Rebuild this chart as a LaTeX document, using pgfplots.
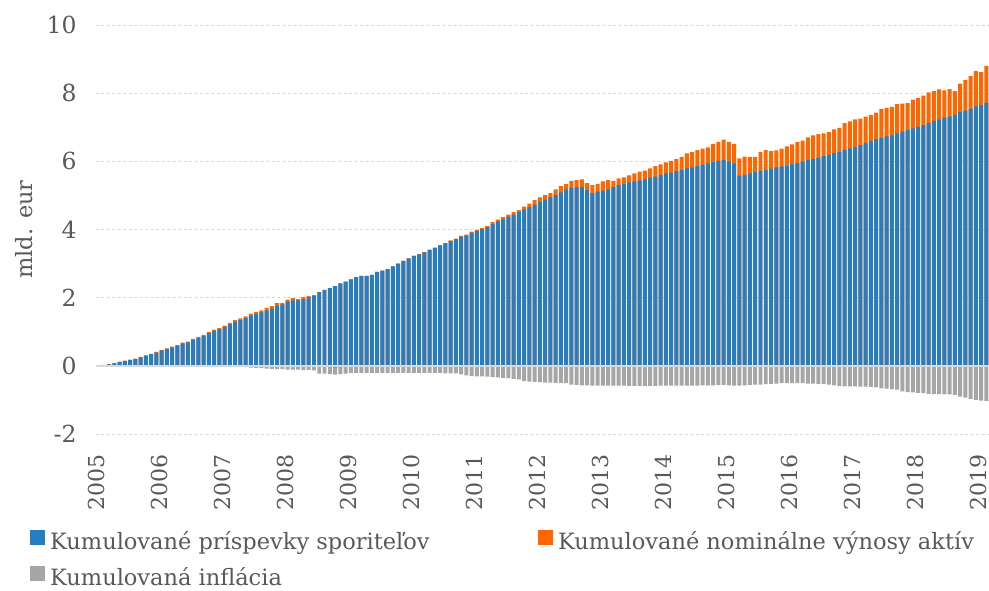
\documentclass[border=0pt]{standalone}
\usepackage{fontspec}
\setmainfont{DejaVu Serif}
\usepackage{pgfplots}
\usepackage{pgfplotstable}
\pgfplotsset{compat=1.18}
\definecolor{cblue}{RGB}{37,125,194}
\definecolor{corange}{RGB}{255,102,0}
\definecolor{cgray}{RGB}{166,166,166}
\definecolor{ctext}{RGB}{89,89,89}
\definecolor{cgrid}{RGB}{217,217,217}

\pgfplotstableread{
c b o g
0 0.005 0.005 0
1 0.02 0.01 -0.005
2 0.04 0.01 -0.005
3 0.07 0.01 -0.01
4 0.11 0.01 -0.01
5 0.14 0.01 -0.01
6 0.17 0.01 -0.01
7 0.20 0.01 -0.01
8 0.25 0.01 -0.01
9 0.30 0.01 -0.01
10 0.34 0.01 -0.01
11 0.39 0.02 -0.01
12 0.45 0.02 -0.01
13 0.49 0.02 -0.01
14 0.54 0.02 -0.01
15 0.59 0.02 -0.01
16 0.66 0.02 -0.01
17 0.69 0.02 -0.01
18 0.76 0.03 -0.01
19 0.82 0.03 -0.01
20 0.88 0.03 -0.01
21 0.97 0.03 -0.01
22 1.03 0.03 -0.01
23 1.08 0.03 -0.015
24 1.14 0.04 -0.02
25 1.22 0.04 -0.02
26 1.30 0.04 -0.02
27 1.34 0.05 -0.03
28 1.40 0.05 -0.04
29 1.47 0.06 -0.05
30 1.52 0.06 -0.06
31 1.57 0.06 -0.07
32 1.63 0.07 -0.08
33 1.68 0.07 -0.09
34 1.77 0.07 -0.10
35 1.80 0.05 -0.10
36 1.89 0.05 -0.11
37 1.92 0.07 -0.11
38 1.92 0.04 -0.11
39 1.96 0.06 -0.12
40 2.01 0.04 -0.12
41 2.07 0.00 -0.13
42 2.16 -0.04 -0.19
43 2.23 -0.04 -0.19
44 2.28 -0.04 -0.20
45 2.34 -0.05 -0.21
46 2.42 -0.04 -0.20
47 2.47 -0.03 -0.20
48 2.54 -0.01 -0.20
49 2.60 -0.01 -0.20
50 2.64 -0.01 -0.20
51 2.64 -0.01 -0.20
52 2.67 -0.01 -0.20
53 2.76 -0.01 -0.20
54 2.79 0 -0.21
55 2.84 0 -0.21
56 2.92 0 -0.21
57 3.00 0 -0.21
58 3.08 0 -0.21
59 3.15 0 -0.21
60 3.22 0.01 -0.21
61 3.27 0.01 -0.21
62 3.33 0.01 -0.21
63 3.40 0.01 -0.21
64 3.46 0.01 -0.21
65 3.53 0.01 -0.21
66 3.59 0.01 -0.22
67 3.66 0.02 -0.22
68 3.71 0.02 -0.22
69 3.79 0.02 -0.25
70 3.83 0.02 -0.28
71 3.91 0.03 -0.30
72 3.96 0.03 -0.31
73 4.01 0.04 -0.31
74 4.07 0.04 -0.32
75 4.16 0.06 -0.33
76 4.24 0.05 -0.34
77 4.30 0.06 -0.35
78 4.38 0.06 -0.36
79 4.44 0.07 -0.38
80 4.51 0.06 -0.40
81 4.59 0.08 -0.45
82 4.66 0.10 -0.46
83 4.73 0.13 -0.47
84 4.81 0.13 -0.48
85 4.88 0.13 -0.49
86 4.94 0.13 -0.49
87 5.01 0.17 -0.50
88 5.09 0.18 -0.50
89 5.17 0.17 -0.51
90 5.22 0.21 -0.55
91 5.24 0.21 -0.56
92 5.25 0.22 -0.57
93 5.16 0.20 -0.57
94 5.07 0.23 -0.58
95 5.11 0.23 -0.58
96 5.13 0.28 -0.58
97 5.18 0.27 -0.58
98 5.24 0.19 -0.58
99 5.31 0.19 -0.58
100 5.34 0.19 -0.58
101 5.38 0.21 -0.59
102 5.41 0.24 -0.59
103 5.44 0.26 -0.59
104 5.47 0.26 -0.59
105 5.52 0.27 -0.59
106 5.55 0.31 -0.59
107 5.60 0.31 -0.58
108 5.65 0.32 -0.58
109 5.67 0.34 -0.58
110 5.71 0.36 -0.58
111 5.75 0.38 -0.58
112 5.79 0.44 -0.58
113 5.82 0.45 -0.58
114 5.86 0.47 -0.58
115 5.90 0.47 -0.57
116 5.94 0.47 -0.57
117 5.98 0.53 -0.57
118 6.01 0.56 -0.56
119 6.04 0.60 -0.56
120 5.99 0.58 -0.57
121 5.94 0.57 -0.58
122 5.58 0.51 -0.58
123 5.60 0.54 -0.57
124 5.65 0.48 -0.56
125 5.68 0.45 -0.55
126 5.72 0.55 -0.55
127 5.75 0.58 -0.54
128 5.78 0.52 -0.53
129 5.82 0.50 -0.52
130 5.85 0.52 -0.51
131 5.87 0.57 -0.51
132 5.92 0.58 -0.51
133 5.95 0.61 -0.51
134 5.99 0.62 -0.51
135 6.04 0.66 -0.52
136 6.07 0.69 -0.52
137 6.11 0.69 -0.53
138 6.15 0.67 -0.54
139 6.19 0.67 -0.55
140 6.24 0.70 -0.57
141 6.28 0.70 -0.59
142 6.34 0.78 -0.60
143 6.38 0.79 -0.60
144 6.42 0.81 -0.60
145 6.48 0.77 -0.61
146 6.54 0.77 -0.61
147 6.60 0.76 -0.62
148 6.65 0.78 -0.63
149 6.69 0.85 -0.66
150 6.73 0.84 -0.67
151 6.76 0.84 -0.69
152 6.82 0.86 -0.70
153 6.87 0.82 -0.75
154 6.92 0.79 -0.77
155 6.97 0.84 -0.78
156 7.02 0.84 -0.79
157 7.07 0.86 -0.80
158 7.13 0.89 -0.82
159 7.18 0.88 -0.83
160 7.23 0.88 -0.83
161 7.28 0.80 -0.84
162 7.32 0.80 -0.84
163 7.36 0.70 -0.85
164 7.45 0.83 -0.90
165 7.49 0.90 -0.93
166 7.55 0.95 -0.97
167 7.61 1.04 -1.00
168 7.65 0.97 -1.02
169 7.72 1.08 -1.03
}\data

\begin{document}
\begin{tikzpicture}
\useasboundingbox (-96pt,-156pt) rectangle (893pt,434pt);
\begin{axis}[
  scale only axis, width=893pt, height=409pt,
  at={(0,0)}, anchor=south west,
  xmin=-0.5, xmax=169.5, ymin=-2, ymax=10,
  enlarge x limits=false,
  ybar, bar width=0.76,
  axis line style={draw=none},
  major tick length=0pt,
  ytick={-2,0,2,4,6,8,10},
  xtick={0,12,24,36,48,60,72,84,96,108,120,132,144,156,168},
  xticklabels={2005,2006,2007,2008,2009,2010,2011,2012,2013,2014,2015,2016,2017,2018,2019},
  ymajorgrids,
  major grid style={cgrid, line width=1pt, dash pattern=on 3pt off 2.5pt},
  /pgf/number format/assume math mode=true,
  tick label style={text=ctext},
  yticklabel style={anchor=east, xshift=-16pt, font=\fontsize{23.5}{27}\selectfont},
  xticklabel style={xshift=-2.5pt, rotate=90, anchor=east, inner xsep=20pt, inner ysep=0pt, font=\fontsize{22}{26}\selectfont},
  ylabel={mld. eur},
  every axis y label/.style={at={(axis description cs:-0.0806,0.5)}, rotate=90, anchor=center, font=\fontsize{22.5}{27}\selectfont, text=ctext},
  legend columns=2,
  legend cell align=left,
  legend style={draw=none, fill=none, at={(axis description cs:-0.0739,-0.2318)}, anchor=north west,
    font=\fontsize{22.5}{27}\selectfont, text=ctext,
    /tikz/every even column/.append style={column sep=106.5pt},
    row sep=13pt, inner sep=0pt},
]
\addplot[forget plot, fill=corange, draw=none, bar shift=0pt] table[x=c, y expr={\thisrow{b}+max(\thisrow{o},0)}] {\data};
\addplot[forget plot, fill=cblue, draw=none, bar shift=0pt] table[x=c, y=b] {\data};
\addplot[forget plot, fill=cgray, draw=none, bar shift=0pt] table[x=c, y expr={min(\thisrow{o},0)+\thisrow{g}}] {\data};
\addplot[forget plot, fill=corange, draw=none, bar shift=0pt] table[x=c, y expr={min(\thisrow{o},0)}] {\data};
\draw[cgrid, line width=2pt] (axis cs:-0.5,0) -- (axis cs:169.5,0);
\addlegendimage{legend image code/.code={\fill[cblue] (0pt,-3pt) rectangle (14pt,11pt); \path (17.5pt,0pt);}}
\addlegendentry{Kumulované príspevky sporiteľov}
\addlegendimage{legend image code/.code={\fill[corange] (0pt,-3pt) rectangle (14pt,11pt); \path (17.5pt,0pt);}}
\addlegendentry{Kumulované nominálne výnosy aktív}
\addlegendimage{legend image code/.code={\fill[cgray] (0pt,-3pt) rectangle (14pt,11pt); \path (17.5pt,0pt);}}
\addlegendentry{Kumulovaná inflácia}
\end{axis}
\end{tikzpicture}
\end{document}
